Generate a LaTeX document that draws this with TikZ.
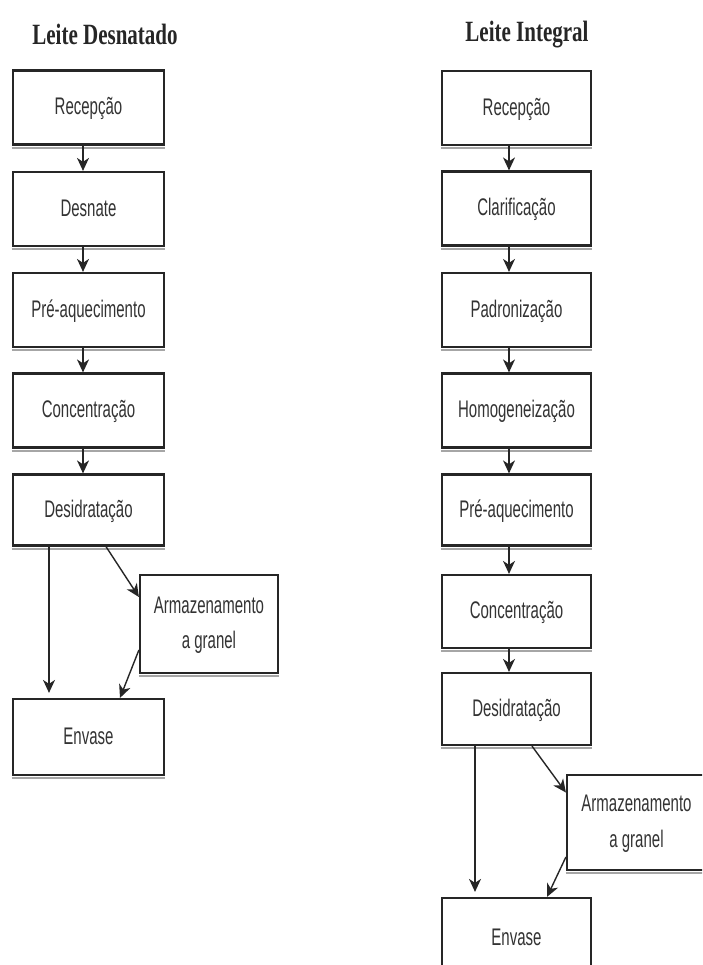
\documentclass[tikz,border=0pt]{standalone}
\usepackage{fontspec}
\setmainfont{Liberation Sans}
\newfontfamily\titlefont{Liberation Serif}
\usetikzlibrary{arrows.meta}
\newcommand{\bxt}[1]{\scalebox{1}[1.6]{\fontsize{15}{22}\selectfont\begin{tabular}{@{}c@{}}#1\end{tabular}}}
\newcommand{\ttl}[1]{\scalebox{1}[1.4]{\titlefont\bfseries\fontsize{21}{24}\selectfont #1}}
\tikzset{
  stepbox/.style={draw=black!85, line width=2.2pt, fill=white, text=black!80,
    inner sep=0pt, minimum width=151pt, minimum height=74pt},
  rbox/.style={stepbox, minimum width=149pt},
  arr/.style={draw=black!85, line width=1.4pt, -{Stealth[length=13pt,width=12pt,inset=4pt]}},
  shade/.style={draw=black!35, line width=2pt},
  ttlnode/.style={text=black!85, inner sep=0pt}
}
\begin{document}
\begin{tikzpicture}[x=1pt,y=-1pt]
\useasboundingbox (0,0) rectangle (702,965);
\clip (0,0) rectangle (702,965);
\fill[white] (0,0) rectangle (702,965);

% titles
\node[ttlnode] (tl) at (105,34) {\ttl{Leite Desnatado}};
\node[ttlnode] (tr) at (527,35) {\ttl{Leite Integral}};

% left column
\node[stepbox] (lrec) at (88.5,107.5) {\bxt{Recepção}};
\node[stepbox] (ldes) at (88.5,209) {\bxt{Desnate}};
\node[stepbox] (lpre) at (88.5,310) {\bxt{Pré-aquecimento}};
\node[stepbox] (lcon) at (88.5,410.5) {\bxt{Concentração}};
\node[stepbox, minimum height=71pt] (ldesid) at (88.5,510) {\bxt{Desidratação}};
\node[stepbox, minimum width=138pt, minimum height=98pt] (larm) at (209,624) {\bxt{Armazenamento\\a granel}};
\node[stepbox, minimum height=76pt] (lenv) at (88.5,737) {\bxt{Envase}};

% right column
\node[rbox] (rrec) at (516.5,108) {\bxt{Recepção}};
\node[rbox] (rcla) at (516.5,208.5) {\bxt{Clarificação}};
\node[rbox] (rpad) at (516.5,310) {\bxt{Padronização}};
\node[rbox] (rhom) at (516.5,410.5) {\bxt{Homogeneização}};
\node[rbox, minimum height=71pt] (rpre) at (516.5,510) {\bxt{Pré-aquecimento}};
\node[rbox, minimum height=73pt] (rcon) at (516.5,611.5) {\bxt{Concentração}};
\node[rbox, minimum height=72pt] (rdesid) at (516.5,709) {\bxt{Desidratação}};
\node[stepbox, minimum width=139pt, minimum height=95pt] (rarm) at (636.5,822.5) {\bxt{Armazenamento\\a granel}};
\node[rbox, minimum height=80pt] (renv) at (516.5,938) {\raisebox{4pt}{\bxt{Envase}}};

% bottom shading
\foreach \n in {lrec,ldes,lpre,lcon,ldesid,larm,lenv,rrec,rcla,rpad,rhom,rpre,rcon,rdesid,rarm}
  \draw[shade] ([yshift=-2.2pt]\n.south west) -- ([yshift=-2.2pt]\n.south east);

% left arrows
\draw[arr] ([xshift=-5.5pt]lrec.south) -- ([xshift=-5.5pt]ldes.north);
\draw[arr] ([xshift=-5.5pt]ldes.south) -- ([xshift=-5.5pt]lpre.north);
\draw[arr] ([xshift=-5.5pt]lpre.south) -- ([xshift=-5.5pt]lcon.north);
\draw[arr] ([xshift=-5.5pt]lcon.south) -- ([xshift=-5.5pt]ldesid.north);
\draw[arr, shorten >=5pt] ([xshift=-39.5pt]ldesid.south) -- ([xshift=-39.5pt]lenv.north);
\draw[arr] ([xshift=17.5pt]ldesid.south) -- ([yshift=27pt]larm.west);
\draw[arr] ([yshift=-26pt]larm.west) -- ([xshift=31.5pt]lenv.north);

% right arrows
\draw[arr] ([xshift=-7.5pt]rrec.south) -- ([xshift=-7.5pt]rcla.north);
\draw[arr] ([xshift=-7.5pt]rcla.south) -- ([xshift=-7.5pt]rpad.north);
\draw[arr] ([xshift=-7.5pt]rpad.south) -- ([xshift=-7.5pt]rhom.north);
\draw[arr] ([xshift=-7.5pt]rhom.south) -- ([xshift=-7.5pt]rpre.north);
\draw[arr] ([xshift=-7.5pt]rpre.south) -- ([xshift=-7.5pt]rcon.north);
\draw[arr] ([xshift=-7.5pt]rcon.south) -- ([xshift=-7.5pt]rdesid.north);
\draw[arr, shorten >=5pt] ([xshift=-41.5pt]rdesid.south) -- ([xshift=-41.5pt]renv.north);
\draw[arr] ([xshift=15.5pt]rdesid.south) -- ([yshift=30pt]rarm.west);
\draw[arr] ([yshift=-34.5pt]rarm.west) -- ([xshift=30.5pt]renv.north);
\end{tikzpicture}
\end{document}
